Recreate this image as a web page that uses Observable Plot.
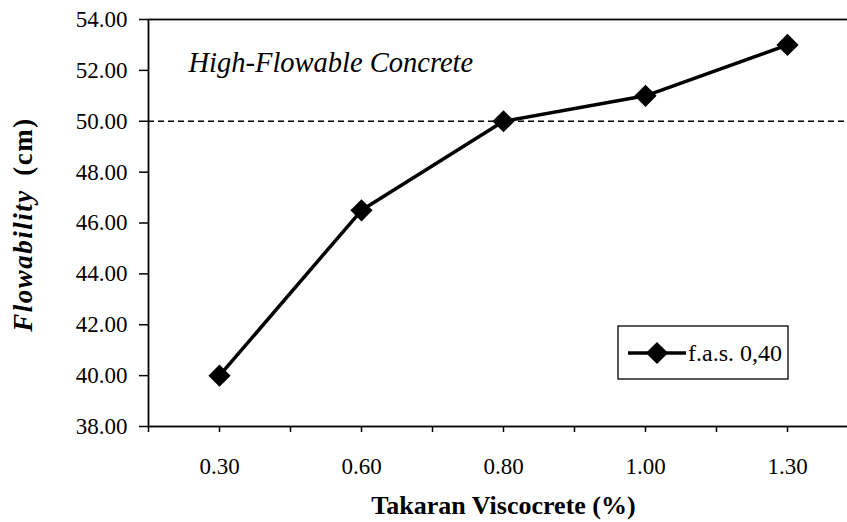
<!DOCTYPE html>
<html>
<head>
<meta charset="utf-8">
<script src="https://cdn.jsdelivr.net/npm/d3@7"></script>
<script src="https://cdn.jsdelivr.net/npm/@observablehq/plot@0.6"></script>
<style>
html, body { margin: 0; padding: 0; background: #fff; overflow: hidden; }
</style>
</head>
<body>
<div id="chart"></div>
<script>
// ---- data ----
const categories = ["0.30", "0.60", "0.80", "1.00", "1.30"];
const flowability = [40.0, 46.5, 50.0, 51.0, 53.0];
const seriesName = "f.a.s. 0,40";
const threshold = 50;
const yTicks = [38, 40, 42, 44, 46, 48, 50, 52, 54];
const annotation = "High-Flowable Concrete";
const xTitle = "Takaran Viscocrete (%)";
const yTitleItalic = "Flowability";
const yTitleUnit = "(cm)";

const data = categories.map((c, i) => ({ i, c, v: flowability[i] }));
const halfTicks = d3.range(-0.5, categories.length, 0.5);
const catTicks = d3.range(categories.length);

const W = 847, H = 522;
const font = "'Liberation Serif', 'Times New Roman', Times, serif";

const plot = Plot.plot({
  width: W,
  height: H,
  marginLeft: 148,
  marginRight: -11,
  marginTop: 19,
  marginBottom: 96,
  style: { fontFamily: font, fontSize: "23px", color: "#000", background: "#fff", overflow: "hidden" },
  x: { type: "linear", domain: [-0.5, categories.length - 0.5] },
  y: { domain: [38, 54] },
  marks: [
    Plot.frame({ stroke: "#000", strokeWidth: 1.8 }),
    Plot.ruleY([threshold], { stroke: "#000", strokeWidth: 1.5, strokeDasharray: "6,4" }),
    Plot.axisY({ ticks: yTicks, tickFormat: d => d.toFixed(2), tickSize: 9, tickPadding: 12, label: null, stroke: "#000", strokeWidth: 1.5 }),
    Plot.axisX({ ticks: halfTicks, tickFormat: () => "", tickSize: 6, label: null, stroke: "#000", strokeWidth: 1.5 }),
    Plot.axisX({ ticks: catTicks, tickFormat: i => categories[i], tickSize: 0, tickPadding: 31, label: null }),
    Plot.line(data, { x: "i", y: "v", stroke: "#000", strokeWidth: 3.5 }),
    Plot.dot(data, { x: "i", y: "v", symbol: "diamond2", r: 10, fill: "#000", stroke: "none" }),
    Plot.text([annotation], { frameAnchor: "top-left", dx: 40, dy: 43, textAnchor: "start", lineAnchor: "middle", fontStyle: "italic", fontSize: 28.5, fill: "#000" }),
    Plot.text([xTitle], { frameAnchor: "bottom", dy: 79, textAnchor: "middle", lineAnchor: "middle", fontWeight: "bold", fontSize: 26, fill: "#000" }),
    Plot.text([yTitleItalic + "  " + yTitleUnit], { frameAnchor: "left", dx: -125, dy: 1.5, rotate: -90, textAnchor: "middle", lineAnchor: "middle", fontWeight: "bold", fontSize: 27, fill: "#000" })
  ]
});

document.getElementById("chart").appendChild(plot);

// rich formatting of the y title (italic word + upright unit)
const svg = d3.select(plot);
svg.selectAll("text").filter(function () { return this.textContent === yTitleItalic + "  " + yTitleUnit; })
  .each(function () {
    const t = d3.select(this);
    t.text(null).attr("letter-spacing", "1.5px");
    t.append("tspan").attr("font-style", "italic").text(yTitleItalic);
    t.append("tspan").attr("dx", "0.5em").text(yTitleUnit);
  });

// legend box
const lg = svg.append("g").attr("font-family", font);
lg.append("rect").attr("x", 618).attr("y", 326).attr("width", 170).attr("height", 53)
  .attr("fill", "#fff").attr("stroke", "#000").attr("stroke-width", 1.3);
lg.append("line").attr("x1", 628).attr("x2", 686).attr("y1", 353).attr("y2", 353)
  .attr("stroke", "#000").attr("stroke-width", 3.5);
lg.append("path").attr("d", d3.symbol(d3.symbolDiamond2, Math.PI * 10 * 10)())
  .attr("transform", "translate(657,353)").attr("fill", "#000");
lg.append("text").attr("x", 688).attr("y", 353).attr("dy", "0.35em")
  .attr("text-anchor", "start").attr("font-size", 24).attr("fill", "#000").text(seriesName);
</script>
</body>
</html>
